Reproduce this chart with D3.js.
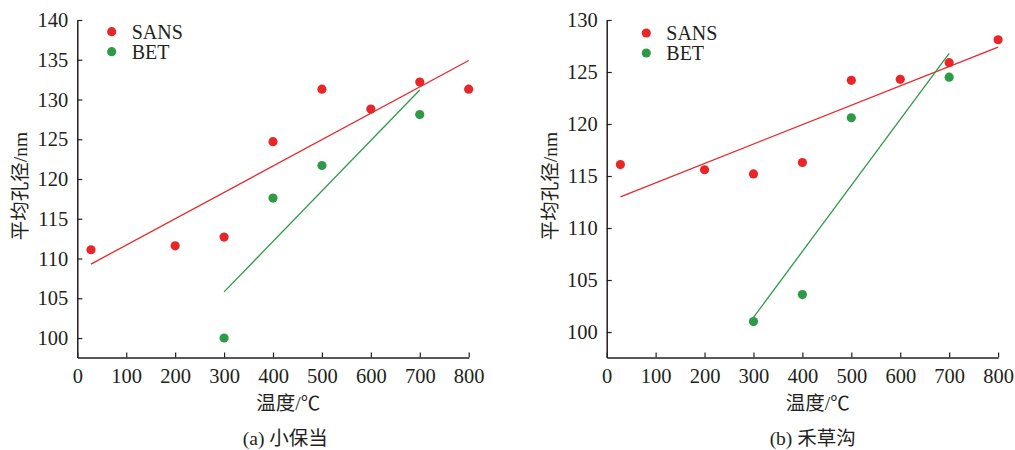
<!DOCTYPE html>
<html>
<head>
<meta charset="utf-8">
<script src="https://cdn.jsdelivr.net/npm/d3@7"></script>
<style>
  body { margin: 0; background: #fff; }
  svg text { fill: #231f20; }
</style>
</head>
<body>
<svg width="1015" height="450"></svg>
<script>
// x values (temperature, °C)
const sansX = [28, 200, 300, 400, 500, 600, 700, 800];
const betX = [300, 400, 500, 700];
const xTicks = [0, 100, 200, 300, 400, 500, 600, 700, 800];

// (a) 小保当
const sansA = [111.1, 111.6, 112.7, 124.7, 131.3, 128.8, 132.2, 131.3];
const betA = [100.0, 117.6, 121.7, 128.1];
const sansFitA = [[28, 109.3], [800, 134.9]];
const betFitA = [[300, 105.8], [700, 131.2]];
const yTicksA = [100, 105, 110, 115, 120, 125, 130, 135, 140];

// (b) 禾草沟
const sansB = [116.1, 115.6, 115.2, 116.3, 124.2, 124.3, 125.9, 128.1];
const betB = [101.0, 103.6, 120.6, 124.5];
const sansFitB = [[28, 113.0], [800, 127.4]];
const betFitB = [[300, 101.4], [700, 126.8]];
const yTicksB = [100, 105, 110, 115, 120, 125, 130];

const red = '#e8262a';
const green = '#2e9a47';
const axisColor = '#231f20';
const serif = '"Liberation Serif", "Noto Sans CJK SC", serif';

const svg = d3.select('svg');

function panel(o) {
  const x = d3.scaleLinear().domain([0, 800]).range([o.left, o.left + 391.4]);
  const y = d3.scaleLinear().domain(o.yDomain).range([357.5, 20]);
  const g = svg.append('g');

  // axes, ticks pointing inward
  const xAxis = g.append('g')
    .attr('transform', `translate(0, 357.5)`)
    .call(d3.axisBottom(x).tickValues(xTicks).tickSize(-5).tickPadding(10).tickSizeOuter(0));
  const yAxis = g.append('g')
    .attr('transform', `translate(${o.left}, 0)`)
    .call(d3.axisLeft(y).tickValues(o.yTicks).tickSize(-5).tickPadding(9).tickSizeOuter(0));
  [xAxis, yAxis].forEach(a => {
    a.attr('font-family', null).attr('font-size', null);
    a.select('.domain').attr('stroke', axisColor).attr('stroke-width', 1.5);
    a.selectAll('.tick line').attr('stroke', axisColor).attr('stroke-width', 1.2);
    a.selectAll('.tick text')
      .style('font-size', '20.5px')
      .style('font-family', serif)
      .attr('fill', axisColor);
  });
  xAxis.selectAll('.tick text').attr('dy', '0.75em');

  // fit lines
  const line = d3.line().x(d => x(d[0])).y(d => y(d[1]));
  g.append('path').attr('d', line(o.sansFit)).attr('stroke', red).attr('stroke-width', 1.3).attr('fill', 'none');
  g.append('path').attr('d', line(o.betFit)).attr('stroke', green).attr('stroke-width', 1.3).attr('fill', 'none');

  // points
  g.selectAll('.sans').data(o.sans).enter().append('circle')
    .attr('cx', (d, i) => x(sansX[i]))
    .attr('cy', d => y(d))
    .attr('r', 4.6)
    .attr('fill', red);
  g.selectAll('.bet').data(o.bet).enter().append('circle')
    .attr('cx', (d, i) => x(betX[i]))
    .attr('cy', d => y(d))
    .attr('r', 4.6)
    .attr('fill', green);

  // legend
  const lg = [['SANS', red], ['BET', green]];
  lg.forEach((d, i) => {
    g.append('circle').attr('cx', o.legX).attr('cy', o.legY + i * 20).attr('r', 4.6).attr('fill', d[1]);
    g.append('text').attr('x', o.legX + 20).attr('y', o.legY + i * 20 + 7)
      .style('font-size', '20px').style('font-family', serif).text(d[0]);
  });

  // axis titles
  g.append('text')
    .attr('transform', `translate(${o.left - 50}, 186) rotate(-90)`)
    .attr('text-anchor', 'middle')
    .style('font-size', '19.5px').style('font-family', serif)
    .text('平均孔径/nm');
  g.append('text')
    .attr('x', o.left + 211).attr('y', 410)
    .attr('text-anchor', 'middle')
    .style('font-size', '19.5px').style('font-family', serif)
    .text('温度/℃');
  g.append('text')
    .attr('x', o.left + o.capDx).attr('y', 445)
    .attr('text-anchor', 'middle')
    .style('font-size', '19.5px').style('font-family', serif)
    .text(o.caption);
}

panel({ left: 77.3, yDomain: [97.55, 140], yTicks: yTicksA, sans: sansA, bet: betA,
  sansFit: sansFitA, betFit: betFitA, legX: 111.7, legY: 31.7, capDx: 208, caption: '(a) 小保当' });
panel({ left: 606.7, yDomain: [97.55, 130], yTicks: yTicksB, sans: sansB, bet: betB,
  sansFit: sansFitB, betFit: betFitB, legX: 646.3, legY: 33, capDx: 206, caption: '(b) 禾草沟' });
</script>
</body>
</html>
